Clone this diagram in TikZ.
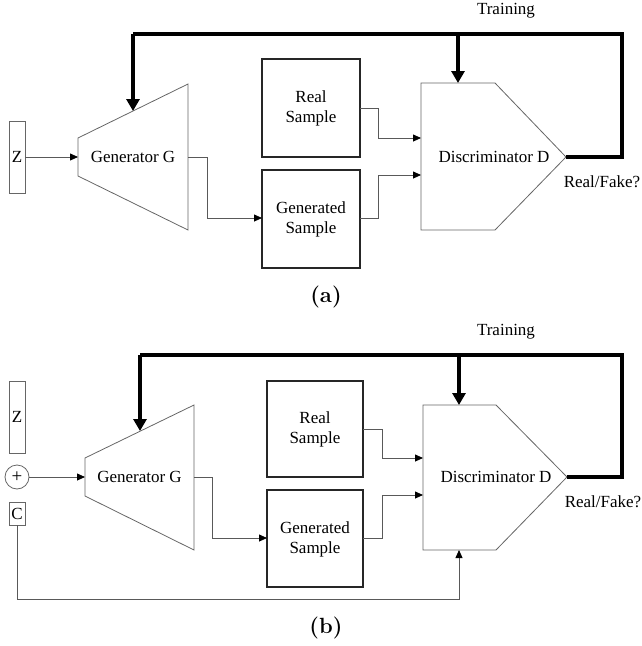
\documentclass[tikz,border=0pt]{standalone}
\usepackage{fontspec}
\newfontfamily\tnr{Liberation Serif}
\usetikzlibrary{arrows.meta}
\begin{document}
\begin{tikzpicture}[x=1pt,y=-1pt,
  txt/.style={font=\tnr\fontsize{17}{20}\selectfont,inner sep=0pt,align=center},
  shapeline/.style={draw=black!60,line width=0.8pt},
  inbox/.style={draw=black!60,line width=0.8pt},
  sbox/.style={draw=black!85,line width=1.5pt},
  conn/.style={draw=black!65,line width=0.8pt},
  carrow/.style={conn,-{Triangle[length=8pt,width=7pt,color=black]}},
  fb/.style={draw=black,line width=3.5pt},
  fbarrow/.style={fb,-{Triangle[length=12pt,width=13pt]}},
  sublabel/.style={font=\fontsize{22}{26}\selectfont,inner sep=0pt}]
\useasboundingbox (0,0) rectangle (642,646);

% ===== Panel (a) =====
\draw[inbox] (9,121) rectangle (25,193);
\node[txt] (za) at (17,157) {Z};
\coordinate (zaR) at (25,157);
\coordinate (gaL) at (78,157);
\coordinate (gaR) at (188,157);
\coordinate (gaT) at (133,111);
\draw[shapeline] (78,138) -- (188,84) -- (188,230) -- (78,176) -- cycle;
\node[txt] (ga) at (133,157) {Generator G};
\draw[sbox] (262,59) rectangle (360,157);
\node[txt] (ra) at (311,108) {Real\\Sample};
\coordinate (raR) at (360,108);
\draw[sbox] (262,170) rectangle (360,268);
\node[txt] (gsa) at (311,219) {Generated\\Sample};
\coordinate (gsaL) at (262,218);
\coordinate (gsaR) at (360,218);
\draw[shapeline] (421,83) -- (495,83) -- (566,157) -- (495,230) -- (421,230) -- cycle;
\node[txt] (da) at (494,157) {Discriminator D};
\coordinate (daIn1) at (421,138);
\coordinate (daIn2) at (421,175);
\coordinate (daTip) at (566,157);
\coordinate (daTop) at (458,83);
\coordinate (fbaR) at (622,34);
\coordinate (fbaB) at (458,34);
\coordinate (fbaL) at (133,34);
\draw[carrow] (zaR) -- (gaL);
\draw[carrow] (gaR) -- (207,157) -- (207,218) -- (gsaL);
\draw[carrow] (raR) -- (378,108) -- (378,138) -- (daIn1);
\draw[carrow] (gsaR) -- (378,218) -- (378,175) -- (daIn2);
\draw[fb,line join=miter] (daTip) -- (622,157) -- (fbaR) -- (fbaL);
\draw[fbarrow] (fbaL) -- (gaT);
\draw[fbarrow] (fbaB) -- (daTop);
\node[txt] (tra) at (506,11) {Training};
\node[txt] (rfa) at (602,182) {Real/Fake?};
\node[sublabel] (capa) at (326,297) {\textbf{(a)}};

% ===== Panel (b) =====
\draw[inbox] (9,381) rectangle (25,453);
\node[txt] (zb) at (17,417) {Z};
\node[draw=black!60,line width=0.8pt,circle,minimum size=24pt,inner sep=0pt,font=\tnr\fontsize{19}{19}\selectfont] (plus) at (17,477) {+};
\draw[inbox] (9,502) rectangle (25,525);
\node[txt] (cb) at (17,513.5) {C};
\coordinate (cbB) at (17,525);
\coordinate (gbL) at (85,477);
\coordinate (gbR) at (194,477);
\coordinate (gbT) at (140,431);
\draw[shapeline] (85,458) -- (194,405) -- (194,550) -- (85,496) -- cycle;
\node[txt] (gb) at (139.5,477) {Generator G};
\draw[sbox] (267,381) rectangle (363,477);
\node[txt] (rb) at (315,429) {Real\\Sample};
\coordinate (rbR) at (363,429);
\draw[sbox] (267,490) rectangle (363,587);
\node[txt] (gsb) at (315,539) {Generated\\Sample};
\coordinate (gsbL) at (267,538);
\coordinate (gsbR) at (363,538);
\draw[shapeline] (423,405) -- (496,405) -- (567,477) -- (496,550) -- (423,550) -- cycle;
\node[txt] (db) at (496,477) {Discriminator D};
\coordinate (dbIn1) at (423,458);
\coordinate (dbIn2) at (423,495);
\coordinate (dbTip) at (567,477);
\coordinate (dbTop) at (459,405);
\coordinate (dbBot) at (459,550);
\coordinate (fbbR) at (622,355);
\coordinate (fbbB) at (459,355);
\coordinate (fbbL) at (140,355);
\draw[carrow] (plus) -- (gbL);
\draw[carrow] (gbR) -- (212,477) -- (212,538) -- (gsbL);
\draw[carrow] (rbR) -- (382,429) -- (382,458) -- (dbIn1);
\draw[carrow] (gsbR) -- (382,538) -- (382,495) -- (dbIn2);
\draw[carrow] (cbB) -- (17,599) -- (459,599) -- (dbBot);
\draw[fb,line join=miter] (dbTip) -- (622,477) -- (fbbR) -- (fbbL);
\draw[fbarrow] (fbbL) -- (gbT);
\draw[fbarrow] (fbbB) -- (dbTop);
\node[txt] (trb) at (506,332) {Training};
\node[txt] (rfb) at (603,502) {Real/Fake?};
\node[sublabel] (capb) at (326,628) {\textbf{(b)}};
\end{tikzpicture}
\end{document}
